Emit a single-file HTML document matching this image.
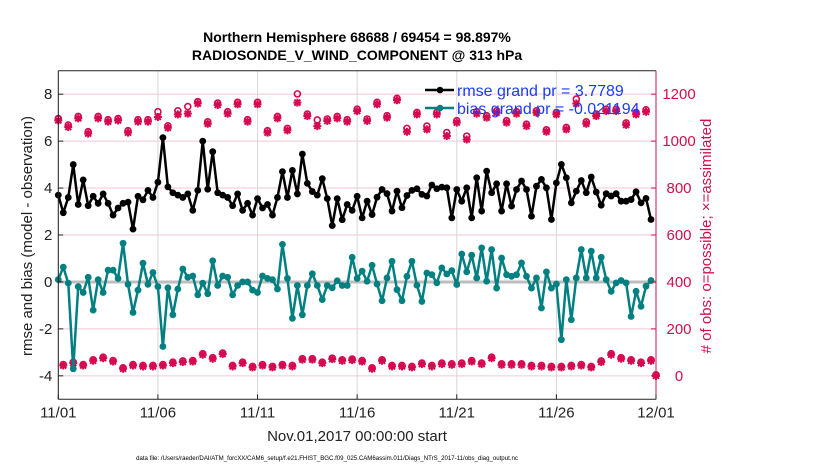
<!DOCTYPE html>
<html><head><meta charset="utf-8"><style>
body{margin:0;background:#fff;}
svg text{font-family:"Liberation Sans",sans-serif;}
</style></head><body>
<svg id="chart" width="830" height="470" viewBox="0 0 830 470" xmlns="http://www.w3.org/2000/svg">
<rect width="830" height="470" fill="#fff"/>
<text x="357" y="42" text-anchor="middle" font-size="14" font-weight="bold">Northern Hemisphere 68688 / 69454 = 98.897%</text>
<text x="357" y="60" text-anchor="middle" font-size="14" font-weight="bold">RADIOSONDE_V_WIND_COMPONENT @ 313 hPa</text>
<g id="grid"></g>
<g id="marks"></g>
<g id="axes"></g>
<g>
<line x1="425" y1="90" x2="454" y2="90" stroke="#000" stroke-width="2.5"/>
<circle cx="440" cy="90" r="3.3" fill="#000"/>
<line x1="425" y1="108" x2="454" y2="108" stroke="#008080" stroke-width="2.5"/>
<circle cx="440" cy="108" r="3.3" fill="#008080"/>
<text x="457" y="96" font-size="16" fill="#1a3cff">rmse grand pr = 3.7789</text>
<text x="457" y="114" font-size="16" fill="#1a3cff">bias grand pr = -0.021194</text>
</g>
<text transform="translate(32,236) rotate(-90)" text-anchor="middle" font-size="15" fill="#222">rmse and bias (model - observation)</text>
<text transform="translate(711,236) rotate(-90)" text-anchor="middle" font-size="15" fill="#d0104c"># of obs: o=possible; ×=assimilated</text>
<text x="357" y="441" text-anchor="middle" font-size="15" fill="#222">Nov.01,2017 00:00:00 start</text>
<text x="327" y="460" text-anchor="middle" font-size="6.1" fill="#000">data file: /Users/raeder/DAI/ATM_forcXX/CAM6_setup/f.e21.FHIST_BGC.f09_025.CAM6assim.011/Diags_NTrS_2017-11/obs_diag_output.nc</text>
</svg>
<script>
const rmse=[3.7,2.95,3.6,5.0,3.3,4.35,3.25,3.65,3.35,3.75,3.35,2.85,3.15,3.35,3.4,2.25,3.65,3.5,3.9,3.6,
4.25,6.15,4.05,3.8,3.7,3.6,3.75,3.05,3.9,6.0,3.95,5.55,3.8,3.7,3.6,3.25,3.75,3.05,3.35,2.85,
3.55,3.15,3.3,2.85,3.6,4.7,3.6,4.75,3.75,5.45,4.2,3.85,3.7,4.4,3.55,2.4,3.55,2.65,3.3,3.05,
3.65,2.73,3.44,2.87,3.61,3.94,3.76,3.02,3.87,3.16,3.68,3.90,3.97,3.73,3.66,4.13,3.97,4.04,4.01,2.73,
3.94,3.44,4.01,2.73,4.44,3.02,4.72,3.80,4.18,3.02,4.18,3.23,3.94,4.30,3.94,2.80,4.08,4.37,4.01,2.66,
4.22,5.01,4.44,3.37,3.87,4.32,3.80,4.47,3.83,3.27,3.76,3.66,3.76,3.44,3.44,3.51,3.84,3.37,3.56,2.66];
const bias=[0.1,0.63,-0.05,-3.7,-0.2,-0.45,0.2,-1.2,0.1,-0.45,0.5,0.5,0.15,1.65,-0.1,-1.3,-0.35,0.8,-0.1,0.4,
-0.2,-2.75,-0.25,-1.4,-0.3,0.55,0.2,0.25,-0.55,-0.05,-0.5,0.9,-0.15,0.25,0.2,-0.55,-0.15,0,0,-0.35,
-0.45,0.25,0.15,0.1,-0.3,1.6,0.15,-1.55,-0.15,-1.4,-0.15,0.35,-0.15,-0.75,-0.15,-0.25,0.05,-0.15,-0.15,1.05,
0.15,0.46,0.03,0.71,-0.09,-0.80,0.17,0.88,-0.33,-0.80,0.24,0.88,-0.14,-0.83,0.38,0.31,-0.04,0.60,0.34,0.48,
-0.11,1.19,0.43,1.14,0.17,1.45,0.03,1.38,-0.26,1.02,0.31,0.24,0.31,0.81,0.24,-0.26,0.17,-1.11,0.43,-0.26,
-0.09,-2.46,0.10,-1.61,0.17,1.38,0.17,1.31,0.17,1.05,0.10,-0.40,-0.04,0.06,-0.04,-1.47,-0.40,-1.04,-0.18,0.06];
// obs counts at 00Z/12Z (index 0,2,...,120)
const obsMainAssim=[1088,1060,1097,1032,1097,1083,1088,1036,1083,1083,1103,1057,1114,1117,1160,1074,1154,1117,1157,1083,
1157,1036,1097,1046,1164,1107,1064,1086,1097,1083,1128,1086,1157,1100,1174,1040,1114,1050,1114,1022,
1079,1007,1117,1100,1121,1079,1117,1064,1121,1040,1114,1050,1160,1074,1107,1128,1128,1069,1114,1125,0];
const obsMainPossible=[1092,1064,1101,1036,1101,1087,1092,1040,1087,1087,1121,1061,1125,1143,1164,1078,1158,1121,1161,1087,
1161,1040,1101,1050,1197,1111,1086,1090,1101,1087,1132,1090,1161,1104,1178,1050,1118,1060,1118,1032,
1083,1017,1121,1104,1125,1083,1121,1068,1125,1044,1118,1054,1175,1078,1111,1132,1132,1073,1118,1129,0];
// obs counts at 06Z/18Z (index 1,3,...,119)
const obsOffAssim=[44,54,44,64,75,61,30,44,40,40,44,54,59,61,90,73,93,40,54,36,
44,36,44,40,69,69,54,71,64,67,61,30,64,40,40,36,50,40,50,47,
50,61,50,75,47,47,47,40,40,36,36,40,44,36,59,90,73,64,54,64];
const obsOffPossible=obsOffAssim.slice();
const xTickLabels=["11/01","11/06","11/11","11/16","11/21","11/26","12/01"];
const yLeftTicks=[-4,-2,0,2,4,6,8];
const yRightTicks=[0,200,400,600,800,1000,1200];

const NS="http://www.w3.org/2000/svg";
const L=58.3,R=656,T=70.7,B=399.3;
const X=i=>L+(R-L)*i/120;
const Y=v=>B-(B-T)*(v+5)/14;
const YR=c=>Y(c/100-4);
function mk(tag,attrs,parent){const e=document.createElementNS(NS,tag);for(const k in attrs)e.setAttribute(k,attrs[k]);parent.appendChild(e);return e;}
const grid=document.getElementById('grid'),marks=document.getElementById('marks'),axes=document.getElementById('axes');
yRightTicks.forEach(t=>{const l=mk('line',{x1:L,x2:R,y1:YR(t),y2:YR(t),stroke:'#f3c6d6','stroke-width':1},grid);

});
xTickLabels.forEach((t,k)=>{const x=X(k*20);const l=mk('line',{x1:x,x2:x,y1:T,y2:B,stroke:'#d8d8d8','stroke-width':1},grid);

});
const z=mk('line',{x1:L,x2:R,y1:Y(0),y2:Y(0),stroke:'#bdbdbd','stroke-width':3},grid);


function star(cx,cy,g){
  mk('path',{d:`M${cx-4},${cy}H${cx+4}M${cx},${cy-4}V${cy+4}M${cx-3},${cy-3}L${cx+3},${cy+3}M${cx-3},${cy+3}L${cx+3},${cy-3}`,stroke:'#d6084f','stroke-width':2},g);
  mk('circle',{cx:cx,cy:cy,r:2.6,fill:'#d6084f'},g);
}
function drawObs(arrA,arrP,offset){
  arrA.forEach((v,k)=>{const i=offset+2*k;const g=mk('g',{},marks);
    
    
    star(X(i),YR(v),g);
    mk('circle',{cx:X(i),cy:YR(arrP[k])-1,r:3,fill:'none',stroke:'#d6084f','stroke-width':1.6},g);});
}
drawObs(obsMainAssim,obsMainPossible,0);
drawObs(obsOffAssim,obsOffPossible,1);
function series(arr,color,name){
  const p=mk('polyline',{points:arr.map((v,i)=>X(i)+','+Y(v)).join(' '),fill:'none',stroke:color,'stroke-width':2.5,'stroke-linejoin':'round'},marks);
  
  
  arr.forEach((v,i)=>{const c=mk('circle',{cx:X(i),cy:Y(v),r:3.4,fill:color},marks);
    
    });
}
series(bias,'#008080','bias');
series(rmse,'#000','rmse');
mk('line',{x1:L,x2:L,y1:T,y2:B,stroke:'#222','stroke-width':1},axes);
mk('line',{x1:L,x2:R,y1:B,y2:B,stroke:'#222','stroke-width':1},axes);
mk('line',{x1:L,x2:R,y1:T,y2:T,stroke:'#222','stroke-width':1},axes);
mk('line',{x1:R,x2:R,y1:T,y2:B,stroke:'#d0104c','stroke-width':1},axes);
yLeftTicks.forEach(t=>{const y=Y(t);mk('line',{x1:L,x2:L+5,y1:y,y2:y,stroke:'#222'},axes);
  const tx=mk('text',{x:L-6,y:y+5,'text-anchor':'end','font-size':15,fill:'#222'},axes);tx.textContent=t;
  
  });
yRightTicks.forEach(t=>{const y=YR(t);mk('line',{x1:R-5,x2:R,y1:y,y2:y,stroke:'#d0104c'},axes);
  const tx=mk('text',{x:679,y:y+5,'text-anchor':'middle','font-size':15,fill:'#d0104c'},axes);tx.textContent=t;
  
  });
xTickLabels.forEach((t,k)=>{const x=X(k*20);mk('line',{x1:x,x2:x,y1:B,y2:B-5,stroke:'#222'},axes);
  const tx=mk('text',{x:x,y:B+18,'text-anchor':'middle','font-size':15,fill:'#222'},axes);tx.textContent=t;
  
  });
</script>
</body></html>
